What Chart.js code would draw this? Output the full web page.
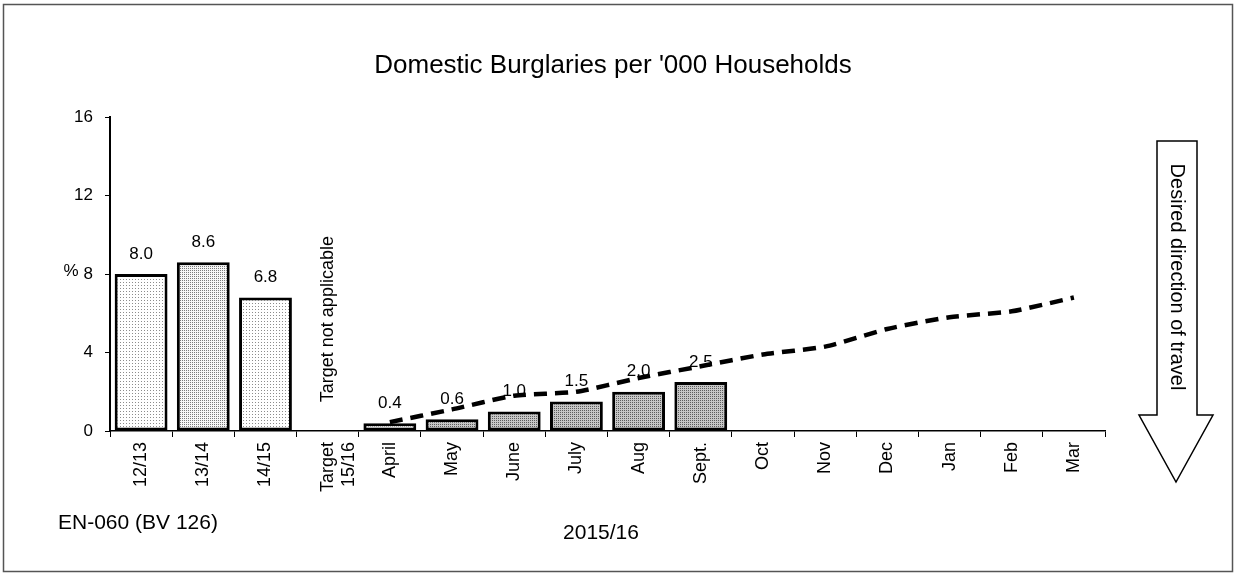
<!DOCTYPE html>
<html>
<head>
<meta charset="utf-8">
<script src="https://cdn.jsdelivr.net/npm/chart.js@4.4.1/dist/chart.umd.min.js"></script>
<style>
  html, body { margin: 0; padding: 0; background: #fff; }
  #wrap { position: relative; width: 1240px; height: 578px; }
</style>
</head>
<body>
<div id="wrap"><canvas id="burglaryChart" width="1240" height="578"></canvas></div>
<script>
// categories along the x axis
var categories = [
    '12/13', '13/14', '14/15', ['Target', '15/16'],
    'April', 'May', 'June', 'July', 'Aug', 'Sept.', 'Oct', 'Nov', 'Dec', 'Jan', 'Feb', 'Mar'
];
var pastYears = [8.0, 8.6, 6.8];
var targetSlot = [null];
var monthlyActual = [0.4, 0.6, 1.0, 1.5, 2.0, 2.5];
var monthlyTarget = [0.45, 1.1, 1.8, 2.0, 2.7, 3.3, 3.9, 4.3, 5.2, 5.8, 6.1, 6.8];
var yTicks = [0, 4, 8, 12, 16];

var titleText = "Domestic Burglaries per '000 Households";
var footLeft = 'EN-060 (BV 126)';
var footCentre = '2015/16';
var targetNote = 'Target not applicable';
var arrowNote = 'Desired direction of travel';

(function () {
    var el = document.getElementById('burglaryChart');
    if (!el || !window.Chart) return;

    var FONT = "'Liberation Sans', Arial, Helvetica, sans-serif";
    Chart.defaults.font.family = FONT;
    Chart.defaults.color = '#000';

    function stipple(bg, dot, step) {
        var c = document.createElement('canvas');
        c.width = step; c.height = step;
        var g = c.getContext('2d');
        g.fillStyle = bg; g.fillRect(0, 0, step, step);
        g.fillStyle = dot; g.fillRect(0, 0, 1, 1);
        return g.createPattern(c, 'repeat');
    }

    // bar values: past years, empty target slot, months so far, rest of year empty
    var barValues = pastYears.concat(targetSlot, monthlyActual);
    while (barValues.length < categories.length) barValues.push(null);
    var lineValues = [null, null, null, null].concat(monthlyTarget);

    var lightFill = stipple('#ffffff', '#8c8c8c', 3);
    var denseFill = stipple('#f6f6f6', '#7a7a7a', 2);
    var darkFill = stipple('#c6c6c6', '#5c5c5c', 2);
    var paleFill = stipple('#ececec', '#9a9a9a', 2);
    var fills = barValues.map(function (v, i) {
        if (i === 1) return denseFill;
        if (i < 3) return lightFill;
        if (i === 4) return paleFill;
        return darkFill;
    });

    var overlay = {
        id: 'overlay',
        afterDatasetsDraw: function (chart) {
            var ctx = chart.ctx;
            var xs = chart.scales.x, ys = chart.scales.y;
            var meta = chart.getDatasetMeta(1);
            ctx.save();
            ctx.fillStyle = '#000';
            ctx.textAlign = 'center';
            ctx.textBaseline = 'middle';

            // title, centred over the whole figure rather than the plot
            ctx.font = '26px ' + FONT;
            ctx.fillText(titleText, 613, 66);

            ctx.font = '17px ' + FONT;
            meta.data.forEach(function (bar, i) {
                var v = barValues[i];
                if (v === null) return;
                ctx.fillText(v.toFixed(1), bar.x, bar.y - 20);
            });

            // note in the target column
            ctx.save();
            ctx.translate(xs.getPixelForValue(3), ys.getPixelForValue(5.7));
            ctx.rotate(-Math.PI / 2);
            ctx.font = '18px ' + FONT;
            ctx.fillText(targetNote, 0, 0);
            ctx.restore();

            ctx.font = '17px ' + FONT;
            ctx.fillText('%', 71, ys.getPixelForValue(8) - 3);

            ctx.font = '21px ' + FONT;
            ctx.textAlign = 'left';
            ctx.fillText(footLeft, 58, 523);
            ctx.textAlign = 'center';
            ctx.fillText(footCentre, 601, 533);

            // direction arrow
            ctx.beginPath();
            ctx.moveTo(1157, 141);
            ctx.lineTo(1197, 141);
            ctx.lineTo(1197, 415);
            ctx.lineTo(1213, 415);
            ctx.lineTo(1176, 482);
            ctx.lineTo(1139, 415);
            ctx.lineTo(1157, 415);
            ctx.closePath();
            ctx.fillStyle = '#fff';
            ctx.fill();
            ctx.lineWidth = 1.5;
            ctx.strokeStyle = '#000';
            ctx.stroke();
            ctx.save();
            ctx.translate(1177, 277);
            ctx.rotate(Math.PI / 2);
            ctx.fillStyle = '#000';
            ctx.font = '20px ' + FONT;
            ctx.fillText(arrowNote, 0, 0);
            ctx.restore();

            // frame round the figure
            ctx.lineWidth = 1.5;
            ctx.strokeStyle = '#555';
            ctx.strokeRect(3.5, 4.5, 1229, 567);
            ctx.restore();
        }
    };

    new Chart(el.getContext('2d'), {
        type: 'bar',
        data: {
            labels: categories,
            datasets: [
                {
                    type: 'line',
                    label: 'Target',
                    data: lineValues,
                    order: 0,
                    borderColor: '#000',
                    borderWidth: 4.5,
                    borderDash: [13, 8],
                    tension: 0.2,
                    pointRadius: 0,
                    fill: false
                },
                {
                    label: 'Burglaries',
                    data: barValues,
                    order: 1,
                    backgroundColor: fills,
                    borderColor: '#000',
                    borderWidth: 3,
                    borderSkipped: false,
                    barPercentage: 0.85,
                    categoryPercentage: 1
                }
            ]
        },
        options: {
            responsive: false,
            animation: false,
            devicePixelRatio: 1,
            layout: { padding: { left: 0, right: 135, top: 117, bottom: 0 } },
            plugins: {
                legend: { display: false },
                tooltip: { enabled: false },
                title: { display: false }
            },
            scales: {
                x: {
                    grid: { display: true, drawOnChartArea: false, drawTicks: true, tickLength: 6, color: '#000', lineWidth: 1 },
                    border: { display: true, color: '#000', width: 1.5 },
                    ticks: {
                        color: '#000',
                        autoSkip: false,
                        maxRotation: 90,
                        minRotation: 90,
                        padding: 5,
                        font: { size: 18 }
                    },
                    afterFit: function (scale) { scale.height = 147; }
                },
                y: {
                    min: 0,
                    max: 16,
                    afterBuildTicks: function (scale) {
                        scale.ticks = yTicks.map(function (v) { return { value: v }; });
                    },
                    grid: { display: true, drawOnChartArea: false, drawTicks: true, tickLength: 5, color: '#000', lineWidth: 1 },
                    border: { display: true, color: '#000', width: 2 },
                    ticks: { color: '#000', padding: 12, font: { size: 17 } },
                    afterFit: function (scale) { scale.width = 110; }
                }
            }
        },
        plugins: [overlay]
    });
})();
</script>
</body>
</html>
